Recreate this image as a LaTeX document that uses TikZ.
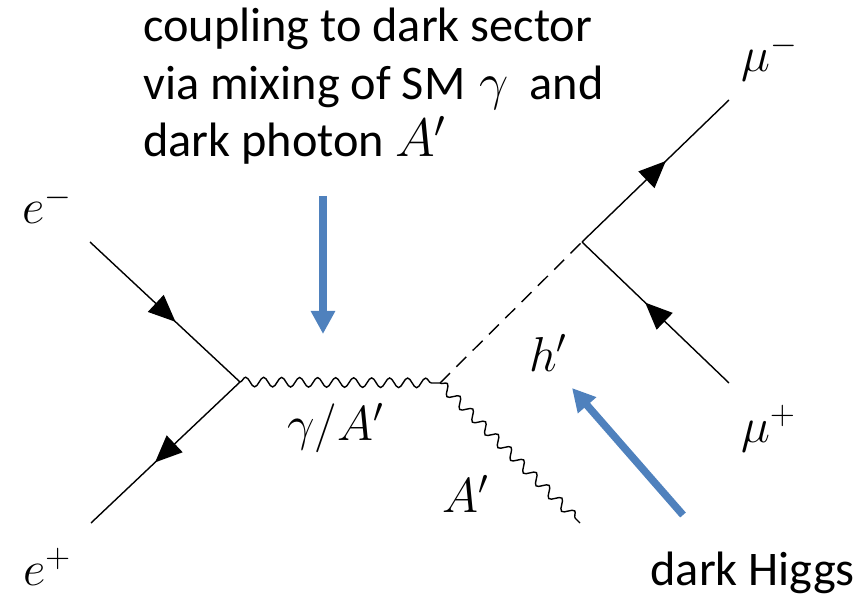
\RequirePackage{fix-cm}
\documentclass[tikz,border=0pt]{standalone}
\usepackage{fontspec}
\setmainfont{Carlito}
\usetikzlibrary{arrows.meta,decorations.pathmorphing,decorations.markings}
\definecolor{offblue}{RGB}{79,129,189}
\tikzset{
  fermion/.style={draw, line width=1.4pt, postaction={decorate},
    decoration={markings, mark=at position 0.57 with {\arrow{Triangle[length=27pt,width=23pt]}}}},
  photon/.style={draw, line width=1.4pt, decorate,
    decoration={snake, amplitude=4.8pt, segment length=18pt}},
  scalar/.style={draw, line width=1.4pt, dash pattern=on 14pt off 9pt},
  pointer/.style={draw=offblue, line width=7.5pt, -{Triangle[length=23pt,width=23pt]}},
  lbl/.style={anchor=base west, inner sep=0pt, font=\fontsize{49}{58}\selectfont},
  txt/.style={anchor=base west, inner sep=0pt, font=\fontsize{48.3}{57}\selectfont},
}
\begin{document}
\begin{tikzpicture}[x=1pt,y=-1pt]
\useasboundingbox (0,0) rectangle (863,596);
% vertices and endpoints
\coordinate (v1) at (240,382);
\coordinate (v2) at (440,383);
\coordinate (v3) at (582,242);
\coordinate (ein) at (90,242);
\coordinate (pin) at (91,523);
\coordinate (mum) at (729,100);
\coordinate (mup) at (729,383);
\coordinate (aout) at (580,523);
% lines
\draw[fermion] (ein) -- (v1);
\draw[fermion] (v1) -- (pin);
\draw[photon] (v1) -- (v2);
\draw[scalar] (v2) -- (v3);
\draw[photon] (v2) -- (aout);
\draw[fermion] (v3) -- (mum);
\draw[fermion] (mup) -- (v3);
% labels
\node[lbl] (lem) at (22,224) {$e^-$};
\node[lbl] (lep) at (23,585) {$e^+$};
\node[lbl] (lmm) at (741,72) {$\mu^-$};
\node[lbl] (lmp) at (741,442) {$\mu^+$};
\node[lbl] (lh) at (529,371) {$h'$};
\node[lbl] (lga) at (287,440) {$\gamma/A'$};
\node[lbl] (la) at (442,512) {$A'$};
% annotation text
\node[txt] (t1) at (143,42) {coupling to dark sector};
\node[txt] (t2) at (143,100) {via mixing of SM\hspace{14pt}{\fontsize{52}{57}\selectfont$\gamma$}\hspace{10pt} and};
\node[txt] (t3) at (143,157) {dark photon\hspace{11pt}{\fontsize{54}{57}\selectfont$A'$}};
\node[txt, anchor=base east] (t4) at (855,585) {dark Higgs};
% blue pointers
\coordinate (p1s) at (323,196);
\coordinate (p1e) at (323,334);
\coordinate (p2s) at (683,515);
\coordinate (p2e) at (572,388);
\draw[pointer] (p1s) -- (p1e);
\draw[pointer] (p2s) -- (p2e);
\end{tikzpicture}
\end{document}
